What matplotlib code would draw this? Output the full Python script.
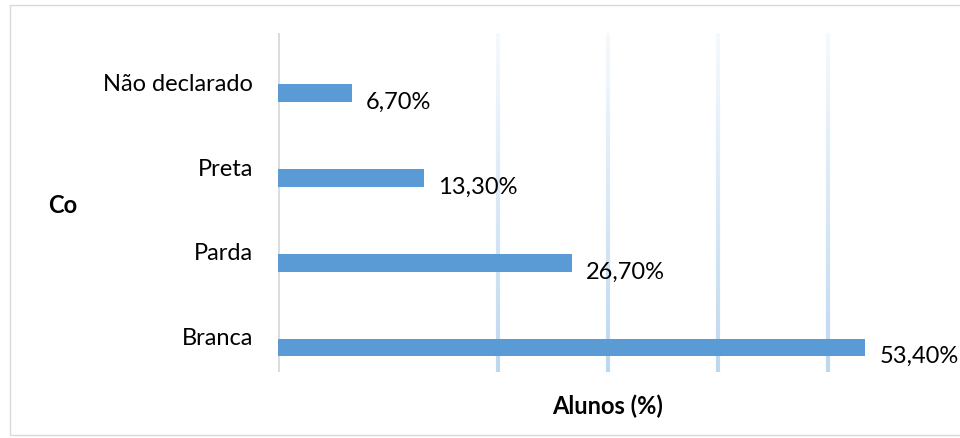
import numpy as np
import matplotlib.pyplot as plt
from matplotlib.collections import LineCollection
from matplotlib.patches import Rectangle

# data (bottom to top, as in the chart)
categories = ["Branca", "Parda", "Preta", "Não declarado"]
values = [53.4, 26.7, 13.3, 6.7]
value_labels = ["53,40%", "26,70%", "13,30%", "6,70%"]
grid_ticks = [20, 30, 40, 50]

FONT = "Lato"
FS = 17
BAR_COLOR = "#5B9BD5"

plt.rcParams["font.family"] = [FONT, "DejaVu Sans"]

fig = plt.figure(figsize=(9.6, 4.39), dpi=100)
ax = fig.add_axes([278 / 960, 1 - 373 / 439, 660 / 960, 339 / 439])

y = np.arange(len(categories))
bar_off = -0.21
ax.barh(y + bar_off, values, height=0.21, color=BAR_COLOR, zorder=3)

for yi, v, lab in zip(y, values, value_labels):
    ax.annotate(lab, (v, yi + bar_off), xytext=(10, -6), textcoords="offset points",
                fontsize=FS, va="center", ha="left", color="#000000")

ax.set_xlim(0, 60)
ax.set_ylim(-0.5, len(categories) - 0.5)

# gradient gridlines (white at top -> light blue at bottom)
top_c = np.array([1.0, 1.0, 1.0])
bot_c = np.array([0xBD, 0xD7, 0xEE]) / 255
n = 60
ys = np.linspace(ax.get_ylim()[1], ax.get_ylim()[0], n + 1)
for gx in grid_ticks:
    segs = [[(gx, ys[i]), (gx, ys[i + 1])] for i in range(n)]
    t = np.linspace(0.15, 1, n)[:, None]
    cols = top_c * (1 - t) + bot_c * t
    ax.add_collection(LineCollection(segs, colors=cols, linewidths=3, zorder=1))

ax.axvline(0, color="#D9D9D9", lw=2, zorder=2)

for s in ax.spines.values():
    s.set_visible(False)
ax.set_xticks([])
ax.set_yticks(y - 0.07)
ax.set_yticklabels(categories, fontsize=FS)
ax.tick_params(axis="y", length=0, pad=18)

fig.text(608 / 960, 1 - 406 / 439, "Alunos (%)", fontsize=FS, fontweight="bold",
         ha="center", va="center")
fig.text(48 / 960, 1 - 206 / 439, "Co", fontsize=FS, fontweight="bold",
         ha="left", va="center")

# outer chart border (right edge runs off the canvas, as in the reference)
fig.patches.append(Rectangle((10 / 960, 3 / 439), 960 / 960, 430 / 439,
                             transform=fig.transFigure, fill=False,
                             edgecolor="#D9D9D9", lw=1))

fig.savefig("out.png", dpi=100)
